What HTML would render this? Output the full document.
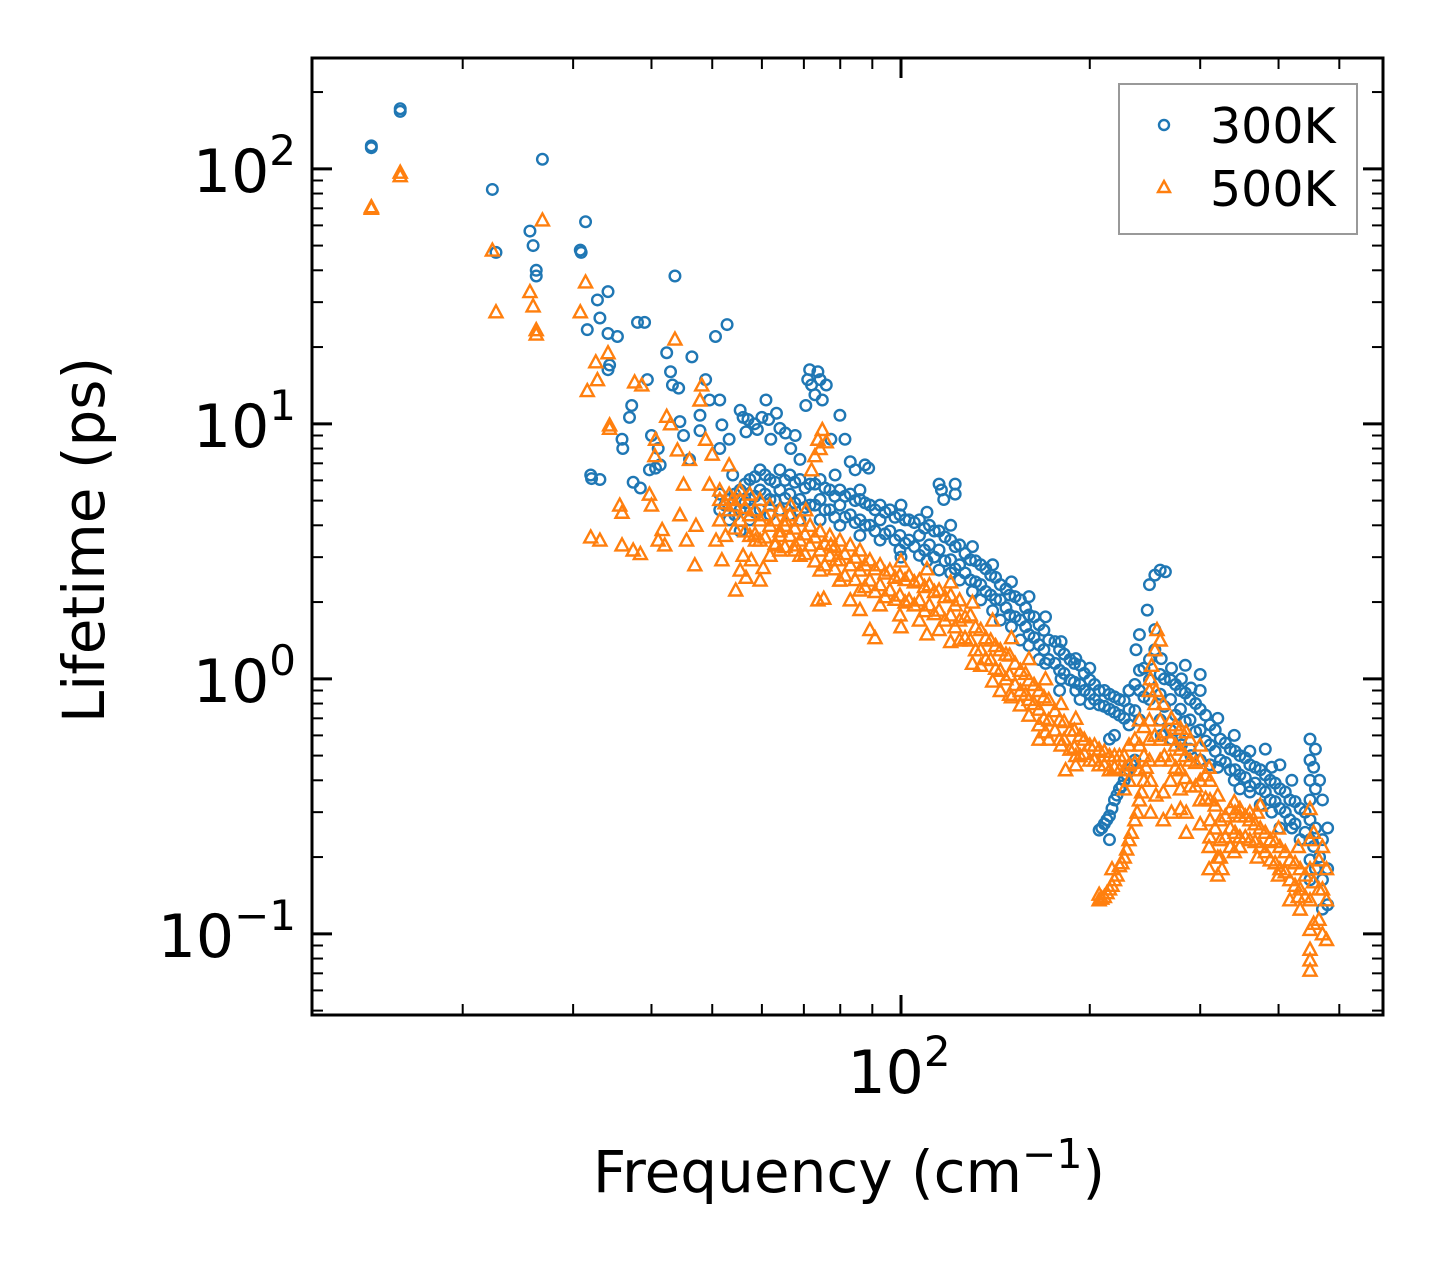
<!DOCTYPE html>
<html><head><meta charset="utf-8"><style>
html,body{margin:0;padding:0;background:#fff;}
svg{display:block;font-family:"DejaVu Sans","Liberation Sans",sans-serif;}
</style></head><body>
<svg id="chart" width="1442" height="1265" viewBox="0 0 1442 1265">
<rect x="0" y="0" width="1442" height="1265" fill="#fff"/>
<g id="marks"></g>
<g id="axes"></g>
<g id="legend">
<rect x="1119" y="84" width="238" height="150" fill="#fff" stroke="#999" stroke-width="2"/>
<circle cx="1164" cy="125" r="5" fill="none" stroke="#1f77b4" stroke-width="2.4"/>
<text x="1210" y="143" font-size="49" fill="#000">300K</text>
<polygon points="1164,181 1170,192 1158,192" fill="none" stroke="#ff7f0e" stroke-width="2.4"/>
<text x="1210" y="206" font-size="49" fill="#000">500K</text>
</g>
<text x="849" y="1192" font-size="58" text-anchor="middle" fill="#000">Frequency (cm<tspan dy="-24" font-size="41">−1</tspan><tspan dy="24">)</tspan></text>
<text transform="translate(104,540) rotate(-90)" font-size="58" text-anchor="middle" fill="#000">Lifetime (ps)</text>
</svg>
<script>
const bluePts = [
[14.3,121],[14.3,123],[15.9,168],[15.9,172],[22.3,83],[22.6,47],[25.6,57],[25.9,50],[26.2,40],[26.2,38],[26.8,109],
[30.8,48],[30.9,47],[31.4,62],[31.6,23.4],[32.0,6.3],[32.1,6.1],[33.1,6.05],[32.8,30.6],[33.1,26],
[34.1,33],[34.1,22.6],[34.3,17],[34.1,16.3],[35.3,22],[35.9,8.7],[36,8],[36.9,10.6],[37.2,11.8],[37.4,5.9],[38.4,5.6],[38,25],[39,25],[39.4,14.9],[39.7,6.6],[40,9],[40.6,6.7],[41.3,6.9],[41,8],[42.3,19],[42.9,16],[43.2,14.2],[43.6,38],[44.2,13.8],[44.4,10.2],[45,9],[46,7.25],[46.4,18.3],[47.8,9.4],[47.8,10.8],[48.8,14.9],[49.5,12.4],[50.6,22],[51.4,12.4],[51.4,8],[51.8,9.9],[52.8,24.5],[53.2,8.7],[53.9,6.3],[55.4,11.3],[56,10.6],[56.6,9.3],[57,10.4],[58.4,10],[59,9.5],[60,10.6],[60.9,12.4],[61.5,10.4],[62,8.7],[63.3,11],[64.1,9.6],[65.4,9.2],[66.7,8],[67.8,9],[69,7.25],[70.5,11.8],[71,14.9],[71.5,16.3],[72,14.2],[72.9,13],[73.7,16],[74.3,14.9],[74.9,12.4],[76,14.2],[77.3,8.7],[78.5,6.3],[79.9,10.8],[81.4,8.7],[83,7.1],[84.5,6.6],[86,5.5],[87.6,6.9],[88.8,6.7],
[51.4,5.3],[51.4,4.6],[53.2,5.05],[53.2,4.2],[55.4,5.5],[55.4,4.6],[55.4,3.8],[57.4,6.05],[57.4,5.05],[57.4,4.2],[59.6,6.6],[59.6,5.5],[59.6,4.6],[61.8,6.05],[61.8,5.05],[61.8,4.4],[64.1,6.6],[64.1,5.5],[64.1,4.6],[66.5,6.3],[66.5,5.3],[66.5,4.4],[69,6.05],[69,5.05],[69,4.2],[71.6,5.8],[71.6,4.8],[74.3,6.05],[74.3,5.05],[74.3,4.2],[77,5.5],[77,4.6],[79.9,5.5],[79.9,4.8],[79.9,4.0],[83,5.3],[83,4.4],[86,5.05],[86,4.2],[86,3.65],[89.2,4.8],[89.2,4.0],[92.6,4.8],[92.6,4.2],[92.6,3.5],[96,4.6],[96,3.8],[99.6,4.4],[99.6,3.65],[99.6,3.2],[103,4.2],[103,3.5],[107,4.2],[107,3.65],[107,3.05],[111,4.0],[111,3.35],[115,3.8],[115,3.2],[115,2.67],[120,3.5],[120,2.93],[122,5.8],[122,5.3],[124,3.35],[124,2.8],[124,2.44],[129,2.93],[129,2.44],[134,2.8],[134,2.34],[134,2.04],[139,2.55],[139,2.13],[144,2.34],[144,2.04],[144,1.7],[149,2.13],[149,1.78],[155,2.04],[155,1.7],[155,1.42],[160,1.78],[160,1.49],[166,1.63],[166,1.36],[166,1.19],[172,1.42],[172,1.19],[179,1.3],[179,1.08],[179,0.9],[186,1.19],[186,0.99],[193,1.13],[193,0.95],[193,0.83],[200,0.99],[200,0.87],[207,0.9],[207,0.79],[215,0.87],[215,0.76],[223,0.83],[223,0.72],[231,0.9],[231,0.76],[231,0.66],[240,1.08],[240,0.9],[240,0.69],[249,1.19],[249,0.99],[249,0.83],[254,1.56],[254,1.3],[259,1.04],[259,0.87],[259,0.69],[269,0.99],[269,0.83],[269,0.63],[279,0.9],[279,0.76],[279,0.58],[289,0.83],[289,0.69],[289,0.53],[300,0.76],[300,0.63],[300,0.48],[311,0.66],[311,0.55],[311,0.46],[323,0.58],[323,0.48],[335,0.53],[335,0.44],[347,0.5],[347,0.42],[347,0.37],[360,0.46],[360,0.38],[374,0.44],[374,0.37],[374,0.32],[388,0.4],[388,0.335],[402,0.37],[402,0.31],[402,0.26],[417,0.335],[417,0.28],[433,0.31],[433,0.234],
[449,0.58],[449,0.48],[449,0.40],[449,0.335],[449,0.28],[449,0.234],[449,0.195],[449,0.163],[458,0.53],[458,0.37],[458,0.26],[458,0.18],[470,0.335],[470,0.234],[470,0.163],[470,0.125],[479,0.26],[479,0.18],[479,0.13],
[249,2.34],[254,2.55],[259,2.67],[264,2.63],[247,1.86],[240,1.49],[237,1.3],
[207,0.255],[211,0.27],[215,0.29],[219,0.335],[223,0.37],[227,0.40],[231,0.44],[236,0.48],[215,0.234],
[209,0.26],[213,0.28],[217,0.31],[221,0.35],[225,0.38],[229,0.42],[233,0.46],
[215,0.58],[219,0.6],[300,0.9],[300,1.04],[284,1.13],[381,0.53],[402,0.46],[231,0.9],[115,5.8],[116,5.5],[117,5.05]
];
const blueBand = [
[52.4,[4.8]],[54.3,[5.3,4.4]],[56.4,[5.8,4.9]],[58.5,[6.2,5.2,4.5]],[60.7,[6.3,5.3]],[63,[5.9,5.0]],[65.3,[6.0,5.1]],[67.7,[5.9,4.9]],[70.3,[5.6,4.7]],[72.9,[5.8,4.8]],[75.6,[5.6,4.6]],[78.4,[5.2,4.3]],[81.4,[5.2,4.3]],[84.5,[5.0,4.1]],[87.6,[4.9,4.0]],[90.9,[4.6,3.8]],[94.3,[4.5,3.7]],[97.8,[4.3,3.5]],[101.5,[4.2,3.4]],[105,[4.1,3.3]],[109,[3.9,3.2]],[113,[3.8,3.0]],[117.5,[3.6,2.9]],[122,[3.3,2.7]],[126.5,[3.1,2.6]],[131.5,[2.9,2.4]],[136.5,[2.7,2.2]],[141.5,[2.5,2.05]],[147,[2.25,1.9]],[152,[2.1,1.75]],[158,[1.9,1.6]],[163,[1.75,1.45]],[169,[1.55,1.3]],[176,[1.4,1.15]],[182,[1.25,1.05]],[189,[1.15,0.97]],[196,[1.05,0.9]],[203.5,[0.95,0.83]],[211,[0.9,0.78]],[219,[0.85,0.74]],[227,[0.82,0.7]],[236,[0.95,0.75]],[244,[1.1,0.85]],[263,[1.0,0.78]],[274,[0.95,0.72]],[284,[0.88,0.68]],[295,[0.8,0.62]],[306,[0.72,0.57]],[317,[0.63,0.52]],[329,[0.56,0.47]],[341,[0.52,0.44]],[354,[0.49,0.41]],[367,[0.45,0.39]],[381,[0.42,0.36]],[395,[0.39,0.33]],[410,[0.36,0.3]],[425,[0.33,0.27]],[441,[0.3,0.25]],
[100,[4.8,3.0]],[110,[4.5,2.9]],[120,[4.0,2.6]],[130,[3.3,2.2]],[140,[2.8,1.85]],[150,[2.4,1.6]],[160,[2.1,1.35]],[170,[1.75,1.15]],[180,[1.4,1.0]],[190,[1.2,0.9]],[200,[1.1,0.8]],[260,[1.2,0.6]],[270,[1.1,0.58]],[280,[1.0,0.55]],[290,[0.92,0.5]],[320,[0.7,0.45]],[340,[0.6,0.4]],[360,[0.52,0.36]],[390,[0.45,0.3]],[420,[0.4,0.26]],[455,[0.45,0.22]],[465,[0.4,0.2]]
];
const orangePts = [
[14.3,71],[14.3,70],[15.9,97],[15.9,94],[22.3,48],[22.6,27.5],[25.6,33],[25.9,29],[26.2,23.4],[26.2,22.5],[26.8,63],
[30.8,27.5],[31.4,36],[31.6,13.5],[32,3.6],[33.1,3.5],[32.6,17.5],[32.8,14.9],[34.1,19],[34.3,9.6],[34.3,9.9],[35.6,4.8],[35.9,4.5],[35.9,3.35],[37.4,3.2],[38.4,3.1],[37.6,14.6],[38.6,14.2],[39.7,5.3],[40,4.8],[40.5,7.5],[40.6,8.7],[41,3.5],[41.6,3.85],[42,3.35],[42.3,10.7],[42.9,10],[43.6,21.5],[44,7.9],[44.4,4.4],[45,5.8],[45.5,3.5],[46,7.25],[46.9,2.8],[47.1,4],[47.8,12.4],[48.1,14.2],[48.8,8.7],[49.5,5.8],[50,7.6],[50.7,3.5],[51.4,4.2],[51.8,2.93],[52.5,3.65],[53.2,6.9],[53.9,5.05],[54.5,2.23],[55.4,2.67],[56,3.05],[56.6,2.5],[57.7,2.93],[58.6,3.5],[59.6,2.44],[60.3,2.73],[61.8,3.05],[63,3.35],[64.1,3.65],[65.4,4.2],[66.7,4.8],[67.8,3.35],[69,4.2],[70.5,4.6],[72,6.6],[72.9,7.5],[73.7,8.7],[74.9,9.5],[74.3,8],[76,8.5],[77.3,3.35],[78.8,2.93],[79.9,2.44],[73.7,2.04],[75.3,2.07],[83,2.04],[86,1.87],[89.2,1.56],[90.9,1.45],
[51.4,5.5],[51.4,5.05],[53.2,5.3],[53.2,4.6],[55.4,5.5],[55.4,5.05],[55.4,4.2],[57.4,5.3],[57.4,4.4],[57.4,3.65],[59.6,5.05],[59.6,4.2],[59.6,3.5],[61.8,4.8],[61.8,4.0],[64.1,4.6],[64.1,3.8],[64.1,3.2],[66.5,4.4],[66.5,3.65],[69,4.2],[69,3.5],[69,3.05],[71.6,4.0],[71.6,3.35],[74.3,3.8],[74.3,3.2],[74.3,2.67],[77,3.65],[77,3.05],[79.9,3.5],[79.9,2.93],[79.9,2.44],[83,3.35],[83,2.8],[86,3.2],[86,2.67],[86,2.23],[89.2,2.93],[89.2,2.44],[92.6,2.8],[92.6,2.34],[92.6,1.95],[96,2.67],[96,2.23],[99.6,2.55],[99.6,2.13],[99.6,1.78],[103,2.55],[103,2.04],[107,2.44],[107,2.04],[107,1.7],[111,2.34],[111,1.95],[115,2.23],[115,1.86],[115,1.56],[120,2.13],[120,1.78],[124,2.04],[124,1.7],[124,1.42],[129,1.78],[129,1.42],[134,1.56],[134,1.3],[134,1.13],[139,1.42],[139,1.19],[144,1.3],[144,1.08],[144,0.9],[149,1.24],[149,1.04],[149,0.87],[155,1.08],[155,0.9],[155,0.79],[160,0.99],[160,0.83],[166,0.9],[166,0.76],[166,0.66],[172,0.83],[172,0.69],[172,0.58],[179,0.69],[179,0.58],[186,0.63],[186,0.53],[193,0.6],[193,0.5],[200,0.55],[200,0.48],[207,0.53],[207,0.46],[215,0.5],[215,0.44],[223,0.5],[223,0.44],[231,0.55],[231,0.46],[231,0.40],[240,0.69],[240,0.55],[240,0.44],[249,0.69],[249,0.58],[249,0.48],
[256,1.56],[259,1.42],[254,1.3],[251,1.13],[249,0.9],
[259,0.69],[259,0.58],[259,0.48],[269,0.58],[269,0.48],[269,0.40],[279,0.53],[279,0.44],[279,0.37],[279,0.31],[289,0.58],[289,0.48],[289,0.38],[300,0.48],[300,0.40],[300,0.335],[311,0.40],[311,0.335],[311,0.28],[311,0.24],[323,0.28],[323,0.234],[323,0.2],[335,0.31],[335,0.26],[335,0.22],[347,0.29],[347,0.24],[347,0.22],[360,0.28],[360,0.234],[374,0.26],[374,0.22],[388,0.234],[388,0.195],[402,0.22],[402,0.18],[417,0.195],[417,0.163],[417,0.136],[433,0.18],[433,0.15],[433,0.125],
[449,0.31],[449,0.234],[449,0.18],[449,0.136],[449,0.104],[449,0.087],[449,0.079],[449,0.072],[464,0.195],[464,0.15],[464,0.114],[477,0.18],[477,0.136],[477,0.095],
[207,0.136],[211,0.14],[215,0.15],[219,0.163],[223,0.185],[227,0.2],[231,0.234],[236,0.28],[240,0.335],[244,0.40],[207,0.143],[217,0.18],
[209,0.138],[213,0.145],[217,0.155],[221,0.17],[225,0.19],[229,0.215],[233,0.25],[238,0.3],[242,0.36],[246,0.45],
[227,0.37],[274,0.66],[279,0.64],[325,0.18],[347,0.31],[374,0.32],[360,0.3],[166,0.58],[183,0.44],[190,0.46]
];
const orangeBand = [
[52.4,[4.9]],[54.3,[4.8,3.9]],[56.4,[4.7,3.8]],[58.5,[4.6,3.7]],[60.7,[4.4,3.6]],[63,[4.2,3.4]],[65.3,[4.0,3.3]],[67.7,[3.9,3.2]],[70.3,[3.7,3.1]],[72.9,[3.6,2.9]],[75.6,[3.4,2.8]],[78.4,[3.3,2.7]],[81.4,[3.1,2.55]],[84.5,[3.0,2.45]],[87.6,[2.8,2.3]],[90.9,[2.7,2.2]],[94.3,[2.6,2.1]],[97.8,[2.5,2.05]],[101.5,[2.45,2.0]],[105,[2.4,1.95]],[109,[2.3,1.85]],[113,[2.2,1.8]],[117.5,[2.1,1.7]],[122,[1.95,1.6]],[126.5,[1.75,1.45]],[131.5,[1.6,1.3]],[136.5,[1.45,1.2]],[141.5,[1.35,1.1]],[147,[1.25,1.0]],[152,[1.15,0.95]],[158,[1.05,0.87]],[163,[0.95,0.8]],[169,[0.85,0.7]],[176,[0.75,0.63]],[182,[0.68,0.58]],[189,[0.63,0.54]],[196,[0.58,0.51]],[203.5,[0.55,0.48]],[211,[0.52,0.46]],[219,[0.5,0.45]],[227,[0.5,0.44]],[236,[0.58,0.47]],[244,[0.65,0.5]],[254,[0.8,0.6]],[263,[0.62,0.5]],[274,[0.55,0.45]],[284,[0.5,0.41]],[295,[0.47,0.38]],[306,[0.42,0.34]],[317,[0.32,0.26]],[329,[0.29,0.24]],[341,[0.3,0.25]],[354,[0.29,0.24]],[367,[0.27,0.23]],[381,[0.25,0.21]],[395,[0.23,0.19]],[410,[0.21,0.175]],[425,[0.19,0.155]],[441,[0.17,0.14]],
[100,[2.9,1.6]],[110,[2.7,1.5]],[120,[2.4,1.4]],[130,[2.0,1.15]],[140,[1.7,0.98]],[150,[1.45,0.85]],[160,[1.2,0.72]],[170,[1.0,0.62]],[180,[0.8,0.55]],[190,[0.7,0.5]],[250,[1.0,0.4,0.3]],[255,[0.9,0.35]],[262,[0.8,0.36,0.28]],[270,[0.7,0.3]],[285,[0.62,0.3,0.25]],[300,[0.55,0.27]],[310,[0.45,0.22,0.18]],[320,[0.35,0.2,0.17]],[340,[0.33,0.21]],[370,[0.3,0.2]],[400,[0.26,0.17]],[430,[0.22,0.14]],[455,[0.25,0.16,0.11]],[470,[0.22,0.15,0.1]]
];
const yTickValues = [0.1, 1, 10, 100];
const yTickExps = ["−1", "0", "1", "2"];
const xTickValues = [100];
const xTickExps = ["2"];

const NS = "http://www.w3.org/2000/svg";
const L = 312, R = 1383, T = 58, B = 1015;
const xMin = Math.log10(11.5), xMax = Math.log10(587);
const yMin = Math.log10(0.04805), yMax = Math.log10(272);
function xs(f){ return L + (Math.log10(f) - xMin) / (xMax - xMin) * (R - L); }
function ys(v){ return B - (Math.log10(v) - yMin) / (yMax - yMin) * (B - T); }
function mk(tag, attrs, parent){ const e = document.createElementNS(NS, tag); for (const k in attrs) e.setAttribute(k, attrs[k]); parent.appendChild(e); return e; }

const marks = document.getElementById('marks');
function drawBlue(f, v){
  const c = mk('circle', {cx: xs(f), cy: ys(v), r: 5.3, fill: 'none', stroke: '#1f77b4', 'stroke-width': 2.4}, marks);
  
  
}
function drawOrange(f, v){
  const x = xs(f), y = ys(v);
  const t = mk('polygon', {points: `${x},${y-6.5} ${x+6.5},${y+5.5} ${x-6.5},${y+5.5}`, fill: 'none', stroke: '#ff7f0e', 'stroke-width': 2.4}, marks);
  
  
}
bluePts.forEach(p => drawBlue(p[0], p[1]));
blueBand.forEach(b => b[1].forEach(v => drawBlue(b[0], v)));
orangePts.forEach(p => drawOrange(p[0], p[1]));
orangeBand.forEach(b => b[1].forEach(v => drawOrange(b[0], v)));

const axes = document.getElementById('axes');
const frame = mk('rect', {x: L, y: T, width: R - L, height: B - T, fill: 'none', stroke: '#000', 'stroke-width': 3}, axes);



for (let d = -2; d <= 2; d++) {
  for (let m = 1; m <= 9; m++) {
    const v = m * Math.pow(10, d);
    const y = ys(v);
    if (y < T || y > B) continue;
    const len = m === 1 ? 20 : 11, w = m === 1 ? 3 : 2;
    const a = mk('line', {x1: L, x2: L + len, y1: y, y2: y, stroke: '#000', 'stroke-width': w}, axes);
    
    
    const b = mk('line', {x1: R, x2: R - len, y1: y, y2: y, stroke: '#000', 'stroke-width': w}, axes);
    
    
  }
}
for (let d = 1; d <= 2; d++) {
  for (let m = 1; m <= 9; m++) {
    const v = m * Math.pow(10, d);
    const x = xs(v);
    if (x < L || x > R) continue;
    const len = m === 1 ? 20 : 11, w = m === 1 ? 3 : 2;
    const a = mk('line', {x1: x, x2: x, y1: B, y2: B - len, stroke: '#000', 'stroke-width': w}, axes);
    
    
    const b = mk('line', {x1: x, x2: x, y1: T, y2: T + len, stroke: '#000', 'stroke-width': w}, axes);
    
    
  }
}
yTickValues.forEach((v, i) => {
  const t = mk('text', {x: 296, y: ys(v) + 23, 'font-size': 60, 'text-anchor': 'end', fill: '#000'}, axes);
  
  
  t.textContent = '10';
  const s = mk('tspan', {dy: -27, 'font-size': 42}, t);
  s.textContent = yTickExps[i];
});
xTickValues.forEach((v, i) => {
  const t = mk('text', {x: xs(v) - 2, y: 1093, 'font-size': 60, 'text-anchor': 'middle', fill: '#000'}, axes);
  
  
  t.textContent = '10';
  const s = mk('tspan', {dy: -27, 'font-size': 42}, t);
  s.textContent = xTickExps[i];
});
</script>
</body></html>
